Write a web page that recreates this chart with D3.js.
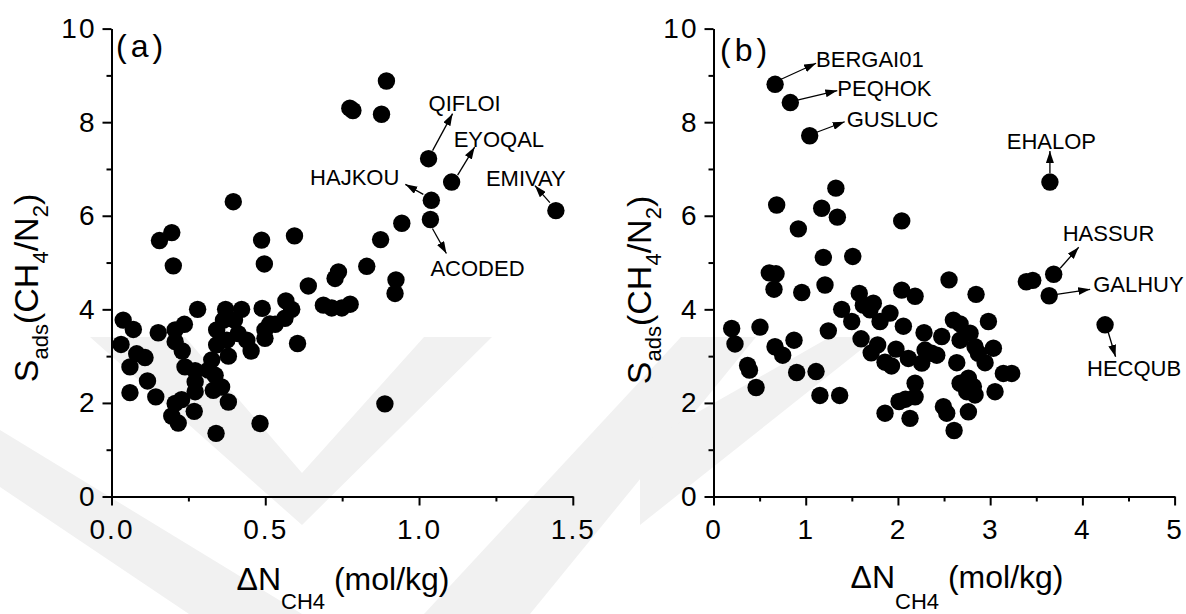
<!DOCTYPE html>
<html>
<head>
<meta charset="utf-8">
<script src="https://cdn.jsdelivr.net/npm/d3@7"></script>
<style>
  body { margin: 0; background: #fff; }
  svg { display: block; }
  text { font-family: "Liberation Sans", Arial, sans-serif; fill: #000; }
</style>
</head>
<body>
<svg id="chart" width="1186" height="614"></svg>
<script>
(function() {

// ---- panel (a) data: dN_CH4 (mol/kg) vs S_ads(CH4/N2)
var aX = [0.894, 0.775, 0.785, 0.878, 0.944, 0.875, 0.830, 0.925, 0.922, 0.738, 0.727, 0.640,
          0.689, 0.716, 0.749, 0.776, 0.567, 0.586, 0.595, 0.488, 0.497, 0.396, 0.156, 0.196,
          0.201, 0.490, 0.564, 0.532, 0.499, 0.499, 0.605, 0.889, 0.483, 0.340, 0.038, 0.071,
          0.152, 0.031, 0.082, 0.109, 0.060, 0.117, 0.060, 0.144, 0.207, 0.237, 0.280, 0.207,
          0.230, 0.239, 0.272, 0.272, 0.272, 0.207, 0.228, 0.196, 0.217, 0.269, 0.326, 0.337,
          0.331, 0.358, 0.380, 0.342, 0.364, 0.371, 0.423, 0.342, 0.375, 0.380, 0.400, 0.412,
          0.440, 0.454, 0.515, 0.315];
var aY = [8.88, 8.30, 8.25, 8.17, 5.84, 5.49, 4.92, 4.63, 4.34, 4.80, 4.66, 4.50,
          4.09, 4.03, 4.03, 4.11, 4.18, 4.00, 5.57, 5.48, 4.97, 6.30, 5.47, 5.64,
          4.93, 4.02, 3.81, 3.68, 3.56, 3.38, 3.27, 1.98, 1.56, 1.35, 3.77, 3.57,
          3.50, 3.25, 3.05, 2.97, 2.77, 2.47, 2.22, 2.13, 3.56, 3.68, 4.00, 3.31,
          3.11, 2.77, 2.69, 2.45, 2.24, 1.99, 2.07, 1.72, 1.57, 1.82, 2.92, 2.59,
          2.27, 2.34, 2.02, 3.56, 3.77, 4.00, 4.00, 3.24, 3.34, 3.00, 3.77, 3.48,
          3.34, 3.11, 3.69, 2.70];
var aNames = ['QIFLOI', 'EYOQAL', 'HAJKOU', 'ACODED', 'EMIVAY'];
var aNameX = [1.031, 1.106, 1.040, 1.037, 1.445];
var aNameY = [7.22, 6.72, 6.33, 5.92, 6.11];

// ---- panel (b) data
var bX = [1.327, 0.685, 1.173, 1.343, 0.920, 2.041, 1.191, 1.510, 0.605, 0.678, 0.656, 0.957,
          1.209, 2.554, 2.041, 2.186, 2.847, 3.392, 3.462, 1.581, 1.390, 1.499, 1.625, 1.697,
          1.733, 1.806, 1.914, 0.197, 0.233, 0.504, 1.245, 0.667, 0.750, 0.873, 0.370, 0.390,
          0.462, 0.902, 1.112, 1.154, 1.368, 1.600, 1.710, 1.780, 2.059, 1.979, 1.860, 1.930,
          2.113, 2.283, 2.294, 2.258, 2.366, 2.421, 2.186, 2.186, 2.012, 2.082, 1.860, 2.131,
          2.493, 2.529, 2.609, 2.764, 2.475, 2.601, 2.674, 2.674, 2.782, 2.836, 2.872, 2.945,
          2.981, 3.035, 2.638, 2.674, 2.764, 2.818, 2.836, 2.746, 3.053, 3.143, 3.234];
var bY = [6.59, 6.23, 6.16, 5.97, 5.72, 5.89, 5.11, 5.13, 4.78, 4.76, 4.43, 4.36,
          4.52, 4.63, 4.41, 4.28, 4.32, 4.59, 4.62, 4.34, 4.00, 3.74, 4.09, 3.99,
          4.13, 3.74, 3.92, 3.59, 3.26, 3.62, 3.54, 3.20, 3.02, 3.34, 2.80, 2.70,
          2.33, 2.65, 2.67, 2.16, 2.16, 3.37, 3.07, 3.24, 3.64, 3.15, 2.87, 2.79,
          2.95, 3.50, 3.13, 2.85, 3.06, 3.02, 2.42, 2.13, 2.03, 2.08, 1.78, 1.67,
          1.92, 1.78, 1.41, 1.81, 3.42, 3.77, 3.69, 3.34, 3.49, 3.20, 3.06, 2.86,
          3.74, 3.17, 2.86, 2.42, 2.53, 2.35, 2.17, 2.24, 2.24, 2.63, 2.63];
var bNames = ['BERGAI01', 'PEQHOK', 'GUSLUC', 'EHALOP', 'HASSUR', 'GALHUY', 'HECQUB'];
var bNameX = [0.668, 0.833, 1.043, 3.648, 3.689, 3.640, 4.246];
var bNameY = [8.81, 8.42, 7.71, 6.72, 4.75, 4.29, 3.67];

// ---- ticks
var yMajor = [0, 2, 4, 6, 8, 10];
var yMinor = [1, 3, 5, 7, 9];
var aXMajor = [0, 0.5, 1.0, 1.5];
var aXMinor = [0.25, 0.75, 1.25];
var bXMajor = [0, 1, 2, 3, 4, 5];
var bXMinor = [0.5, 1.5, 2.5, 3.5, 4.5];

// ---- layout (pixels): label offsets relative to the point, arrow start/end offsets
var aLayout = [
  {tx: 0, ty: -48, anchor: 'start', a: [4, -8, 24, -45]},
  {tx: 2, ty: -35, anchor: 'start', a: [6, -7, 23, -35]},
  {tx: -32, ty: -15, anchor: 'end', a: [-8, -6, -26, -16]},
  {tx: 0, ty: 56, anchor: 'start', a: [2, 9, 16, 34]},
  {tx: -70, ty: -25, anchor: 'start', a: [-6, -8, -21, -25]}
];
var bLayout = [
  {tx: 41, ty: -17, anchor: 'start', a: [6, -5, 41, -21]},
  {tx: 47, ty: -7, anchor: 'start', a: [7, -2.5, 47, -12]},
  {tx: 37, ty: -9, anchor: 'start', a: [7, -3.5, 35, -14]},
  {tx: 1.5, ty: -33, anchor: 'middle', a: [0, -9, 0, -31]},
  {tx: 9, ty: -33, anchor: 'start', a: [6.5, -6, 25, -27]},
  {tx: 44, ty: -4, anchor: 'start', a: [7.5, -1.5, 41, -6.5]},
  {tx: -18, ty: 51, anchor: 'start', a: [3, 7, 10.5, 32]}
];

var svg = d3.select('#chart');

// faint background watermark
var wm = svg.append('g').attr('fill', '#f1f1f1');
[
  [[90, 337], [185, 337], [302, 473], [424, 337], [492, 337], [302, 525]],
  [[0, 430], [302, 614], [189, 614], [0, 487]],
  [[681, 337], [756, 337], [530, 614], [424, 614]],
  [[830, 337], [877, 337], [640, 525], [640, 445]]
].forEach(function(p) {
  wm.append('polygon').attr('points', p.map(function(q) { return q.join(','); }).join(' '));
});

var defs = svg.append('defs');
defs.append('marker')
    .attr('id', 'head')
    .attr('markerUnits', 'userSpaceOnUse')
    .attr('viewBox', '0 0 12 8')
    .attr('refX', 12).attr('refY', 4)
    .attr('markerWidth', 12).attr('markerHeight', 8)
    .attr('orient', 'auto')
  .append('path')
    .attr('d', 'M0,0 L12,4 L0,8 Z')
    .attr('fill', '#000');

function drawPanel(opt) {
  var x = d3.scaleLinear().domain(opt.xDomain).range(opt.xRange);
  var y = d3.scaleLinear().domain([0, 10]).range([496.5, 28.6]);
  var g = svg.append('g');

  // minor ticks
  g.append('g')
      .attr('transform', 'translate(0,' + y(0) + ')')
      .call(d3.axisBottom(x).tickValues(opt.xMinor).tickSize(5).tickSizeOuter(0).tickFormat(''))
      .call(styleAxis);
  g.append('g')
      .attr('transform', 'translate(' + x(0) + ',0)')
      .call(d3.axisLeft(y).tickValues(yMinor).tickSize(5).tickSizeOuter(0).tickFormat(''))
      .call(styleAxis);

  // major ticks and labels
  g.append('g')
      .attr('transform', 'translate(0,' + y(0) + ')')
      .call(d3.axisBottom(x).tickValues(opt.xMajor).tickSize(9).tickSizeOuter(0)
        .tickPadding(14).tickFormat(opt.xFormat))
      .call(styleAxis);
  g.append('g')
      .attr('transform', 'translate(' + x(0) + ',0)')
      .call(d3.axisLeft(y).tickValues(yMajor).tickSize(9).tickSizeOuter(0)
        .tickPadding(opt.yPad).tickFormat(d3.format('d')))
      .call(styleAxis);

  // points
  g.selectAll('.dot')
      .data(d3.zip(opt.xs, opt.ys).concat(d3.zip(opt.nx, opt.ny)))
      .enter().append('circle')
      .attr('class', 'dot')
      .attr('cx', function(d) { return x(d[0]); })
      .attr('cy', function(d) { return y(d[1]); })
      .attr('r', 8.7)
      .attr('fill', '#000');

  // annotations
  opt.names.forEach(function(name, i) {
    var px = x(opt.nx[i]), py = y(opt.ny[i]), L = opt.layout[i];
    g.append('line')
        .attr('x1', px + L.a[0]).attr('y1', py + L.a[1])
        .attr('x2', px + L.a[2]).attr('y2', py + L.a[3])
        .attr('stroke', '#000')
        .attr('stroke-width', 1.3)
        .attr('marker-end', 'url(#head)');
    g.append('text')
        .attr('x', px + L.tx).attr('y', py + L.ty)
        .attr('text-anchor', L.anchor)
        .style('font-size', '22px')
        .text(name);
  });

  // panel tag
  g.append('text')
      .attr('x', opt.tag[0]).attr('y', opt.tag[1])
      .style('font-size', '32px')
      .style('letter-spacing', '4px')
      .text(opt.tagText);

  // y title
  var yt = g.append('text')
      .attr('transform', 'translate(' + opt.yTitle[0] + ',' + opt.yTitle[1] + ') rotate(-90)')
      .attr('text-anchor', 'middle')
      .style('font-size', '34px');
  yt.append('tspan').text('S');
  yt.append('tspan').attr('dy', 10).style('font-size', '22px').text('ads');
  yt.append('tspan').attr('dy', -10).text('(CH');
  yt.append('tspan').attr('dy', 10).style('font-size', '22px').text('4');
  yt.append('tspan').attr('dy', -10).text('/N');
  yt.append('tspan').attr('dy', 10).style('font-size', '22px').text('2');
  yt.append('tspan').attr('dy', -10).text(')');

  // x title
  var xt = g.append('text')
      .attr('x', opt.xTitle[0]).attr('y', opt.xTitle[1])
      .attr('text-anchor', 'middle')
      .style('font-size', '32px');
  xt.append('tspan').text('\u0394N');
  xt.append('tspan').attr('dy', opt.subDrop).style('font-size', '22px').text('CH4');
  xt.append('tspan').attr('dy', -opt.subDrop).text(' (mol/kg)');
}

function styleAxis(sel) {
  sel.select('.domain').attr('stroke', '#000').attr('stroke-width', 2);
  sel.selectAll('.tick line').attr('stroke', '#000').attr('stroke-width', 2);
  sel.selectAll('.tick text')
      .style('font-family', '"Liberation Sans", Arial, sans-serif')
      .style('font-size', '28px')
      .style('letter-spacing', '2px')
      .attr('fill', '#000');
}

drawPanel({
  xDomain: [0, 1.5], xRange: [111.5, 572.8],
  xMajor: aXMajor, xMinor: aXMinor, xFormat: d3.format('.1f'), yPad: 6,
  xs: aX, ys: aY, names: aNames, nx: aNameX, ny: aNameY, layout: aLayout,
  tag: [116, 57], tagText: '(a)',
  yTitle: [38, 288], xTitle: [343, 590], subDrop: 19
});

drawPanel({
  xDomain: [0, 5], xRange: [713.5, 1174.6],
  xMajor: bXMajor, xMinor: bXMinor, xFormat: d3.format('d'), yPad: 6,
  xs: bX, ys: bY, names: bNames, nx: bNameX, ny: bNameY, layout: bLayout,
  tag: [720, 61], tagText: '(b)',
  yTitle: [651, 290], xTitle: [957, 588], subDrop: 21
});

})();
</script>
</body>
</html>
